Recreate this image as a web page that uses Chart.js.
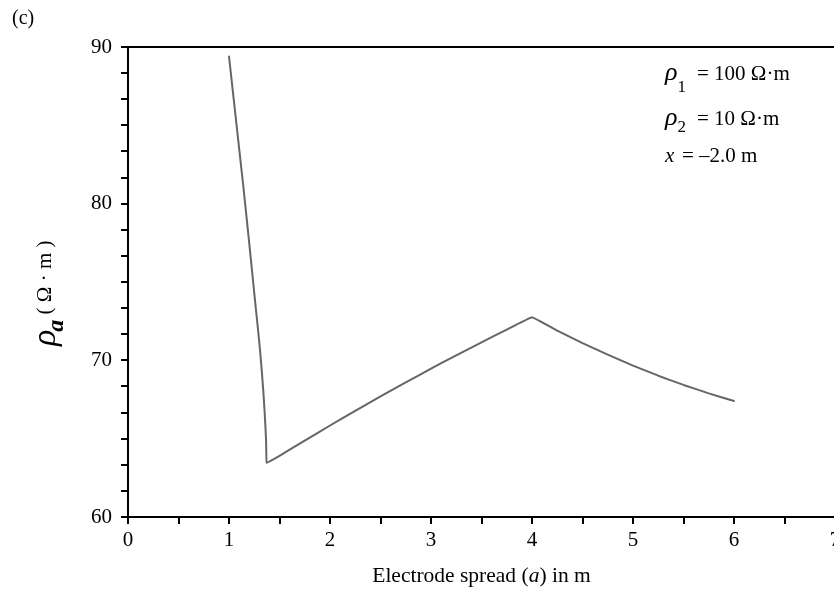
<!DOCTYPE html>
<html>
<head>
<meta charset="utf-8">
<script src="https://cdn.jsdelivr.net/npm/chart.js@4.4.1/dist/chart.umd.min.js"></script>
<style>
  html, body { margin:0; padding:0; background:#fff; overflow:hidden; width:834px; height:589px; }
  #wrap { position:relative; width:860px; height:589px; }
</style>
</head>
<body>
<div id="wrap"><canvas id="chart" width="860" height="589"></canvas></div>
<script>
// electrode spread a (m) and apparent resistivity (ohm.m)
const spreadA = [1.00, 1.07, 1.142, 1.20, 1.257, 1.29, 1.307, 1.325, 1.34, 1.352, 1.362, 1.368, 1.373,
                 1.50, 1.75, 2.00, 2.25, 2.50, 2.75, 3.00, 3.25, 3.50, 3.75, 4.00,
                 4.25, 4.50, 4.75, 5.00, 5.25, 5.50, 5.75, 6.00];
const rhoA    = [89.4, 85.3, 81.1, 77.5, 73.85, 71.8, 70.66, 69.3, 68.0, 66.8, 65.6, 64.7, 63.45,
                 63.9, 64.88, 65.84, 66.78, 67.7, 68.59, 69.47, 70.32, 71.15, 71.96, 72.75,
                 71.9, 71.1, 70.36, 69.66, 69.02, 68.43, 67.89, 67.4];

const xLabels = [0, 1, 2, 3, 4, 5, 6, 7];
const yLabels = [60, 70, 80, 90];
const yMinorPerMajor = 6;

const panelTag = "(c)";
const xTitle = ["Electrode spread (", "a", ") in m"];
const yTitle = ["ρ", "a", " ( Ω · m )"];
const notes = [
  { sym:"ρ", sub:"1", text:"= 100 Ω·m" },
  { sym:"ρ", sub:"2", text:"= 10 Ω·m" },
  { sym:"x", sub:"",  text:"= –2.0 m" },
];

const SERIF = "'Liberation Serif', 'Times New Roman', serif";

// extra texts: panel tag, axis titles with italics, parameter box, top frame line
const textPlugin = {
  id: "texts",
  afterDraw(chart){
    const ctx = chart.ctx, a = chart.chartArea;
    ctx.save();
    ctx.fillStyle = "#000";
    ctx.textBaseline = "alphabetic";

    // top frame
    ctx.strokeStyle = "#000"; ctx.lineWidth = 2;
    ctx.beginPath(); ctx.moveTo(a.left - 1, a.top); ctx.lineTo(a.right + 30, a.top); ctx.stroke();

    ctx.font = `20px ${SERIF}`;
    ctx.fillText(panelTag, 12, 24);

    // x title
    const f1 = `21.5px ${SERIF}`, f2 = `italic 21.5px ${SERIF}`;
    ctx.font = f1; const w0 = ctx.measureText(xTitle[0]).width, w2 = ctx.measureText(xTitle[2]).width;
    ctx.font = f2; const w1 = ctx.measureText(xTitle[1]).width;
    let x = (a.left + a.right) / 2 - (w0 + w1 + w2) / 2;
    ctx.font = f1; ctx.fillText(xTitle[0], x, 582); x += w0;
    ctx.font = f2; ctx.fillText(xTitle[1], x, 582); x += w1;
    ctx.font = f1; ctx.fillText(xTitle[2], x, 582);

    // y title, rotated
    ctx.save();
    ctx.translate(0, 346);
    ctx.rotate(-Math.PI / 2);
    let t = 0;
    ctx.font = `italic 34px ${SERIF}`; ctx.fillText(yTitle[0], t, 55); t += ctx.measureText(yTitle[0]).width - 2;
    ctx.font = `italic bold 24px ${SERIF}`; ctx.fillText(yTitle[1], t, 63); t += ctx.measureText(yTitle[1]).width;
    ctx.font = `21px ${SERIF}`; ctx.fillText(yTitle[2], t, 51);
    ctx.restore();

    // parameter box
    const baselines = [80, 125, 162], subOff = [12, 7, 0];
    notes.forEach((n, i) => {
      let px = 665;
      ctx.font = n.sym === "x" ? `italic 21px ${SERIF}` : `italic 26px ${SERIF}`;
      ctx.fillText(n.sym, px, baselines[i]); px += ctx.measureText(n.sym).width;
      if (n.sub){ ctx.font = `17px ${SERIF}`; ctx.fillText(n.sub, px, baselines[i] + subOff[i]); }
      ctx.font = `21px ${SERIF}`;
      ctx.fillText(n.text, n.sub ? 697 : 682, baselines[i]);
    });
    ctx.restore();
  }
};

const points = spreadA.map((v, i) => ({ x: v, y: rhoA[i] }));

new Chart(document.getElementById("chart"), {
  type: "scatter",
  data: { datasets: [{
    data: points, showLine: true, borderColor: "#666", borderWidth: 2,
    borderJoinStyle: "round", borderCapStyle: "round",
    pointRadius: 0, tension: 0.05, fill: false,
  }]},
  options: {
    responsive: false, animation: false, devicePixelRatio: 1,
    layout: { padding: { top: 47, right: 25, left: 0, bottom: 0 } },
    plugins: { legend: { display: false }, tooltip: { enabled: false } },
    scales: {
      x: {
        type: "linear", min: 0, max: 7,
        afterBuildTicks: s => {
          const tk = [];
          xLabels.forEach((v, i) => { tk.push({ value: v }); if (i < xLabels.length - 1) tk.push({ value: v + 0.5 }); });
          s.ticks = tk;
        },
        ticks: { callback: v => xLabels.includes(v) ? String(v) : "", autoSkip: false, maxRotation: 0,
                 font: { family: SERIF, size: 21 }, color: "#000", padding: 4 },
        grid: { drawOnChartArea: false, tickLength: 7, color: "#000", lineWidth: 2 },
        border: { color: "#000", width: 2 },
        afterFit: s => { s.height = 72; },
      },
      y: {
        type: "linear", min: 60, max: 90,
        afterBuildTicks: s => {
          const tk = [];
          yLabels.forEach((v, i) => {
            tk.push({ value: v });
            if (i < yLabels.length - 1)
              for (let k = 1; k < yMinorPerMajor; k++) tk.push({ value: v + k * 10 / yMinorPerMajor });
          });
          s.ticks = tk;
        },
        ticks: { callback: v => yLabels.includes(v) ? String(v) : "", autoSkip: false,
                 font: { family: SERIF, size: 21 }, color: "#000", padding: 9 },
        grid: { drawOnChartArea: false, tickLength: 7, color: "#000", lineWidth: 2 },
        border: { color: "#000", width: 2 },
        afterFit: s => { s.width = 128; },
      },
    },
  },
  plugins: [textPlugin],
});
</script>
</body>
</html>
